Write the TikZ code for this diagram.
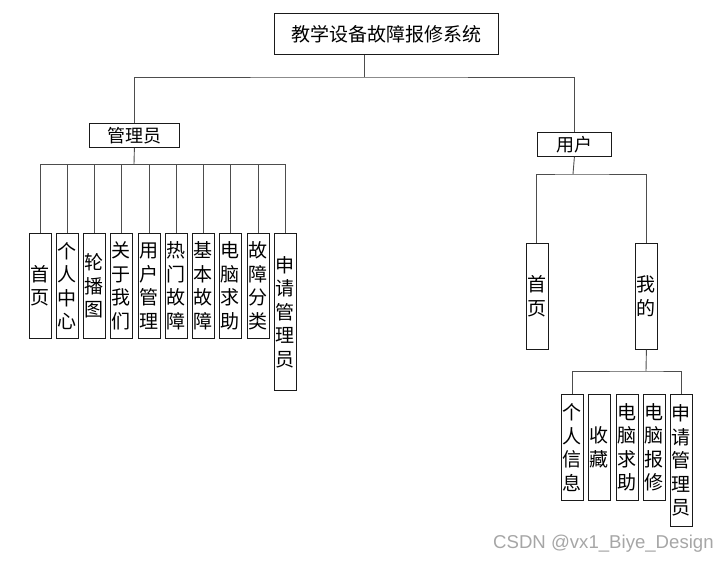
\documentclass[tikz,border=0pt]{standalone}
\usepackage{fontspec}
\usepackage{tikz}
\usetikzlibrary{calc}
\newfontfamily\cjk{Noto Sans CJK SC}
\setsansfont{Liberation Sans}
\definecolor{treeInk}{HTML}{1A1A1A}
\definecolor{treeLine}{HTML}{4D4D4D}
\definecolor{treeMark}{HTML}{A6A6A6}
\tikzset{
  treebox/.style={rectangle, draw=treeInk, fill=white, line width=0.8pt,
    inner sep=0pt, anchor=north west, text=black},
  treehead/.style={treebox, font=\cjk\fontsize{19}{22}\selectfont},
  treemid/.style={treebox, font=\cjk\fontsize{18}{21}\selectfont},
  treeleaf/.style={treebox, minimum width=22pt, align=center,
    font=\cjk\fontsize{19}{23.5}\selectfont},
  treelink/.style={draw=treeLine, line width=0.9pt},
  treemark/.style={font=\sffamily\fontsize{18.6}{20}\selectfont,
    text=treeMark, anchor=base west, inner sep=0pt},
}

\begin{document}
\begin{tikzpicture}[x=1pt,y=-1pt]
  \path[use as bounding box] (0,0) rectangle (727,565);

  % root and the two roles
  \node[treehead,minimum width=224pt,minimum height=41pt] (sys)
    at (274,13) {教学设备故障报修系统};
  \node[treemid,minimum width=90pt,minimum height=24pt] (admin)
    at (89,123) {管理员};
  \node[treemid,minimum width=74pt,minimum height=24pt] (user)
    at (537,132) {用户};
  \coordinate (sysjoin) at (364,77);
  \draw[treelink] (sysjoin |- sys.south) -- (sysjoin);
  \draw[treelink] (admin.north) |- (sysjoin) -| (user.north);

  % admin pages
  \coordinate (adminjoin) at (134,164);
  \draw[treelink] (admin.south) -- (adminjoin);
  \foreach \nm/\px/\txt in {
      ahome/29/{首\\页}, acenter/56/{个\\人\\中\\心},
      aslide/83/{轮\\播\\图}, aabout/110/{关\\于\\我\\们},
      auser/138/{用\\户\\管\\理}, ahot/165/{热\\门\\故\\障},
      abasic/192/{基\\本\\故\\障}, ahelp/219/{电\\脑\\求\\助},
      akind/247/{故\\障\\分\\类}}{
    \node[treeleaf,minimum height=105pt] (\nm) at (\px,233) {\txt};
    \draw[treelink] (\nm.north) |- (adminjoin);
  }
  \node[treeleaf,minimum height=157pt] (aapply) at (274,233)
    {申\\请\\管\\理\\员};
  \draw[treelink] (aapply.north) |- (adminjoin);

  % user pages
  \coordinate (userjoin) at (573,174);
  \draw[treelink] (user.south) -- (userjoin);
  \node[treeleaf,minimum height=106pt] (uhome) at (525.5,243) {首\\页};
  \node[treeleaf,minimum height=106pt] (umine) at (635,243) {我\\的};
  \draw[treelink] (uhome.north) |- (userjoin) -| (umine.north);

  % my pages
  \coordinate (minejoin) at (646,371);
  \draw[treelink] (umine.south) -- (minejoin);
  \node[treeleaf,minimum height=106pt] (minfo) at (561,394)
    {个\\人\\信\\息};
  \node[treeleaf,minimum height=106pt] (mfav) at (588,394) {收\\藏};
  \node[treeleaf,minimum height=106pt] (mhelp) at (616,394)
    {电\\脑\\求\\助};
  \node[treeleaf,minimum height=106pt] (mrepair) at (643,394)
    {电\\脑\\报\\修};
  \node[treeleaf,minimum height=132pt] (mapply) at (670,394)
    {申\\请\\管\\理\\员};
  \draw[treelink] (minfo.north) |- (minejoin) -| (mapply.north);

  \node[treemark] (mark) at (493,548) {CSDN @vx1\_Biye\_Design};
\end{tikzpicture}
\end{document}
